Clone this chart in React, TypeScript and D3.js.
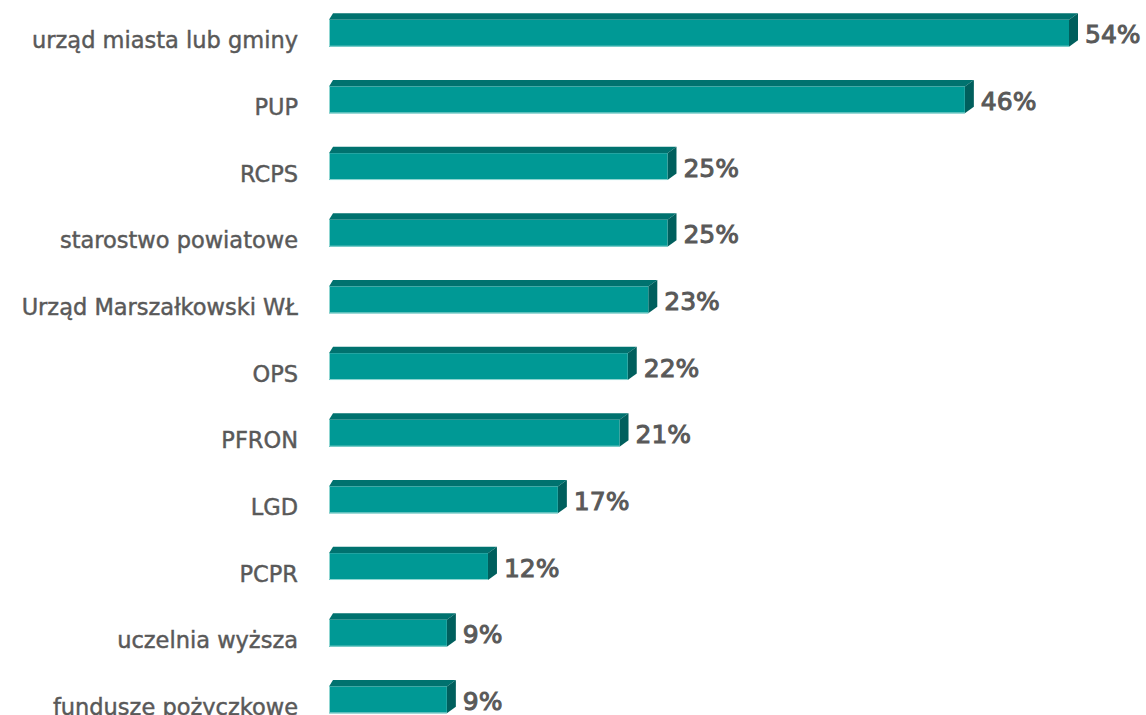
import React from "react";
import * as d3 from "d3";

const categories = [
  "urząd miasta lub gminy",
  "PUP",
  "RCPS",
  "starostwo powiatowe",
  "Urząd Marszałkowski WŁ",
  "OPS",
  "PFRON",
  "LGD",
  "PCPR",
  "uczelnia wyższa",
  "fundusze pożyczkowe",
];
const values = [54, 46.4, 24.7, 24.7, 23.3, 21.8, 21.2, 16.7, 11.6, 8.6, 8.6];
const labels = ["54%", "46%", "25%", "25%", "23%", "22%", "21%", "17%", "12%", "9%", "9%"];

const W = 1146;
const H = 715;
const DX = 9;
const DY = 6.5;
const DXL = 4;

export default function App() {
  const x = d3.scaleLinear().domain([0, 54]).range([329, 1069]);
  const y = d3
    .scaleBand<string>()
    .domain(categories)
    .range([-3.3, 730])
    .paddingInner(0.5)
    .paddingOuter(0.25);
  const bw = y.bandwidth();
  const x0 = x(0);

  return (
    <svg
      width={W}
      height={H}
      style={{ position: "absolute", left: 0, top: 0, background: "#fff" }}
    >
      {categories.map((c, i) => {
        const top = y(c)!;
        const ft = top + DY;
        const fb = top + bw;
        const xe = x(values[i]);
        const topFace = [
          [x0, ft],
          [x0 + DXL, ft - DY],
          [xe + DX, ft - DY],
          [xe, ft],
        ];
        const sideFace = [
          [xe, ft],
          [xe + DX, ft - DY],
          [xe + DX, fb - DY],
          [xe, fb],
        ];
        const pts = (p: number[][]) => p.map((q) => q.join(",")).join(" ");
        return (
          <g key={c}>
            <polygon points={pts(topFace)} fill="#00726f" />
            <polygon points={pts(sideFace)} fill="#005f5d" />
            <rect x={x0} y={ft} width={xe - x0} height={fb - ft} fill="#009995" />
            <path
              d={`M${x0 + 0.5},${ft} L${x0 + 0.5},${fb - 0.5} L${xe},${fb - 0.5}`}
              fill="none"
              stroke="#8fd6d2"
              strokeWidth={1}
            />
            <text
              x={298}
              y={fb + 1.5}
              textAnchor="end"
              fontFamily="DejaVu Sans"
              fontSize={22.5}
              fill="#595959"
              stroke="#595959"
              strokeWidth={0.45}
            >
              {c}
            </text>
            <text
              x={xe + DX + 7}
              y={fb - 3.2}
              fontFamily="DejaVu Sans"
              fontSize={25}
              fill="#595959"
              stroke="#595959"
              strokeWidth={1}
            >
              {labels[i]}
            </text>
          </g>
        );
      })}
    </svg>
  );
}
